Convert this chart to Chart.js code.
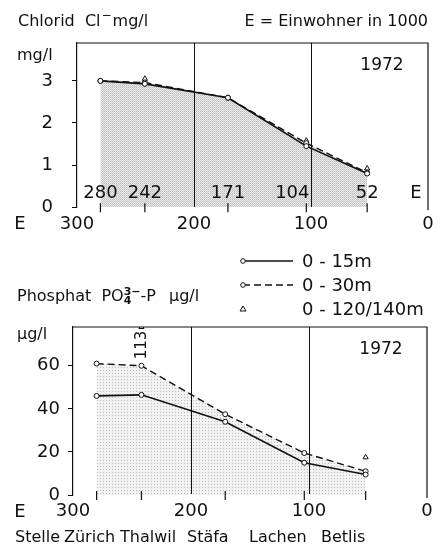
<!DOCTYPE html>
<html>
<head>
<meta charset="utf-8">
<script src="https://cdn.jsdelivr.net/npm/chart.js@4.4.1/dist/chart.umd.min.js"></script>
<style>
  html, body { margin: 0; padding: 0; background: #fff; }
  #page { position: relative; width: 443px; height: 554px; overflow: hidden; font-family: "DejaVu Sans", sans-serif; color: #111; }
  .box { position: absolute; left: 0; top: -3px; line-height: 0; }
  .box canvas { display: block; }
  .t { position: absolute; font-size: 16px; line-height: 1; white-space: nowrap; }
  .hi { position: relative; top: -7px; font-size: 12px; margin: 0 1px; }
  .stack { display: inline-block; font-size: 11px; line-height: 9px; vertical-align: -3px; font-weight: bold; }
</style>
</head>
<body>
<div id="page">
  <div class="box"><canvas id="chlorid" width="443" height="240"></canvas></div>
  <div class="box"><canvas id="phosphat" width="443" height="557"></canvas></div>

  <div class="t" style="left:18px;top:13px">Chlorid&nbsp; Cl<span class="hi">−</span>mg/l</div>
  <div class="t" style="right:15px;top:13px">E = Einwohner in 1000</div>
  <div class="t" style="left:17px;top:47px">mg/l</div>

  <div class="t" style="left:17px;top:287px">Phosphat&nbsp; PO<span class="stack">3−<br>4</span>-P<span style="margin-left:13px">µg/l</span></div>
  <div class="t" style="left:17px;top:326px">µg/l</div>

  <div class="t" style="left:15px;top:529px">Stelle</div>
  <div class="t" style="left:64px;top:529px">Zürich</div>
  <div class="t" style="left:120px;top:529px">Thalwil</div>
  <div class="t" style="left:187px;top:529px">Stäfa</div>
  <div class="t" style="left:249px;top:529px">Lachen</div>
  <div class="t" style="left:321px;top:529px">Betlis</div>
</div>
<script>
// Einwohner (in 1000) bei den Stellen
const stationE = [280, 242, 171, 104, 52];
const eTicks = [300, 200, 100, 0];

// Chlorid mg/l
const cl15 = [3.0, 2.93, 2.6, 1.45, 0.8];
const cl30 = [3.0, 2.96, 2.6, 1.52, 0.82];
const cl120 = [null, 3.05, null, 1.58, 0.92];
const clTicks = [0, 1, 2, 3];
const clMax = 3.9;

// Phosphat µg/l
const p15 = [46, 46.5, 34, 15, 9.5];
const p30 = [61, 60, 37.5, 19.5, 11];
const p120 = [null, 113, null, null, 17.5];
const pTicks = [0, 20, 40, 60];
const pMax = 78;

const ink = '#111';
const family = '"DejaVu Sans", sans-serif';

function pattern(size, dots, base) {
  const c = document.createElement('canvas');
  c.width = size; c.height = size;
  const g = c.getContext('2d');
  g.fillStyle = base;
  g.fillRect(0, 0, size, size);
  dots.forEach(d => { g.fillStyle = d[2]; g.fillRect(d[0], d[1], 1, 1); });
  return g.createPattern(c, 'repeat');
}

const toPoints = (vals, cap) => vals.map((v, i) => ({ x: stationE[i], y: v == null ? null : Math.min(v, cap) }));

function datasets(v15, v30, v120, cap, fillColor) {
  return [
    { label: '0 - 15m', data: toPoints(v15, cap), borderColor: ink, borderWidth: 1.6,
      pointRadius: 2.5, pointBackgroundColor: '#fff', pointBorderColor: ink, pointBorderWidth: 1, fill: false },
    { label: '0 - 30m', data: toPoints(v30, cap), borderColor: ink, borderWidth: 1.4, borderDash: [7, 4],
      pointRadius: 2.5, pointBackgroundColor: '#fff', pointBorderColor: ink, pointBorderWidth: 1,
      fill: 'origin', backgroundColor: fillColor },
    { label: '0 - 120/140m', data: toPoints(v120, cap), showLine: false, fill: false, pointStyle: 'triangle',
      pointRadius: 3, pointBackgroundColor: '#fff', pointBorderColor: ink, pointBorderWidth: 1 }
  ];
}

// Rahmen, Stellen-Striche und Beschriftungen
const deko = {
  id: 'deko',
  afterDraw(chart, args, o) {
    const { ctx, chartArea: a, scales: { x, y } } = chart;
    ctx.save();
    ctx.strokeStyle = ink;
    ctx.lineWidth = 1.2;
    ctx.beginPath();
    ctx.moveTo(a.left, a.top);
    ctx.lineTo(a.right, a.top);
    ctx.lineTo(a.right, a.bottom + 3);
    stationE.forEach(e => {
      const px = x.getPixelForValue(e);
      ctx.moveTo(px, a.bottom - 4);
      ctx.lineTo(px, a.bottom + 5);
    });
    ctx.stroke();

    ctx.fillStyle = ink;
    ctx.textBaseline = 'middle';
    ctx.textAlign = 'center';
    ctx.font = '18px ' + family;
    ctx.fillText('E', 20, a.bottom + 17);
    ctx.font = '17px ' + family;
    ctx.fillText('1972', a.right - 46, a.top + 23);

    if (o.popLabels) {
      ctx.font = '18px ' + family;
      stationE.forEach((e, i) => {
        const shift = o.popShift[i] || 0;
        ctx.fillText(String(e), x.getPixelForValue(e) + shift, a.bottom - 14);
      });
      ctx.fillText('E', a.right - 12, a.bottom - 14);
    }

    if (o.capped) {
      ctx.font = '15px ' + family;
      o.capped.forEach((v, i) => {
        if (v == null || v <= y.max) return;
        ctx.save();
        ctx.translate(x.getPixelForValue(stationE[i]) + 1, a.top + 18);
        ctx.rotate(-Math.PI / 2);
        ctx.fillText(String(v), 0, 0);
        ctx.restore();
      });
    }

    if (o.legend) {
      ctx.font = '18px ' + family;
      ctx.textAlign = 'left';
      chart.data.datasets.forEach((ds, i) => {
        const ly = o.legend.y + i * 24;
        const lx = o.legend.x;
        if (ds.showLine !== false) {
          ctx.beginPath();
          ctx.setLineDash(ds.borderDash || []);
          ctx.lineWidth = 1.3;
          ctx.moveTo(lx, ly);
          ctx.lineTo(lx + 50, ly);
          ctx.stroke();
          ctx.setLineDash([]);
        }
        ctx.lineWidth = 1;
        ctx.fillStyle = '#fff';
        ctx.beginPath();
        if (ds.pointStyle === 'triangle') {
          ctx.moveTo(lx, ly - 3); ctx.lineTo(lx + 3, ly + 2); ctx.lineTo(lx - 3, ly + 2); ctx.closePath();
        } else {
          ctx.arc(lx, ly, 2.3, 0, Math.PI * 2);
        }
        ctx.fill();
        ctx.stroke();
        ctx.fillStyle = ink;
        ctx.fillText(ds.label, lx + 59, ly + 1);
      });
    }
    ctx.restore();
  }
};

function axes(ticksY, maxY, yWidth, yPad, xHeight) {
  const font = { size: 18, family: family };
  return {
    x: {
      type: 'linear', reverse: true, min: 0, max: 300,
      afterBuildTicks: s => { s.ticks = eTicks.map(v => ({ value: v })); },
      afterFit: s => { s.height = xHeight; },
      grid: { z: 1, drawTicks: false, lineWidth: 1,
        color: c => (c.tick && (c.tick.value === 200 || c.tick.value === 100)) ? ink : 'rgba(0,0,0,0)' },
      border: { display: true, color: ink, width: 1.2 },
      ticks: { color: ink, font: font, padding: 6, maxRotation: 0, autoSkip: false }
    },
    y: {
      min: 0, max: maxY,
      afterBuildTicks: s => { s.ticks = ticksY.map(v => ({ value: v })); },
      afterFit: s => { s.width = yWidth; },
      grid: { drawOnChartArea: false, tickLength: 5, color: ink },
      border: { color: ink, width: 1.2 },
      ticks: { color: ink, font: font, padding: yPad }
    }
  };
}

const topFill = pattern(2, [[0, 0, '#bdbdbd'], [1, 1, '#cdcdcd']], '#e9e9e9');
const botFill = pattern(3, [[1, 1, '#bdbdbd']], '#f2f2f2');

// canvases sit 3px above the page edge
new Chart(document.getElementById('chlorid'), {
  type: 'line',
  data: { datasets: datasets(cl15, cl30, cl120, clMax, topFill) },
  options: {
    responsive: false, animation: false,
    elements: { line: { tension: 0 } },
    layout: { padding: { top: 46, right: 15, left: 0, bottom: 0 } },
    scales: axes(clTicks, clMax, 77, 19, 28),
    plugins: {
      legend: { display: false }, tooltip: { enabled: false },
      filler: { drawTime: 'beforeDatasetsDraw' },
      deko: { popLabels: true, popShift: [0, 0, 0, -14, 0] }
    }
  },
  plugins: [deko]
});

new Chart(document.getElementById('phosphat'), {
  type: 'line',
  data: { datasets: datasets(p15, p30, p120, pMax, botFill) },
  options: {
    responsive: false, animation: false,
    elements: { line: { tension: 0 } },
    layout: { padding: { top: 330, right: 16, left: 0, bottom: 0 } },
    scales: axes(pTicks, pMax, 73, 8, 59),
    plugins: {
      legend: { display: false }, tooltip: { enabled: false },
      filler: { drawTime: 'beforeDatasetsDraw' },
      deko: { capped: p120, legend: { x: 243, y: 264 } }
    }
  },
  plugins: [deko]
});
</script>
</body>
</html>
